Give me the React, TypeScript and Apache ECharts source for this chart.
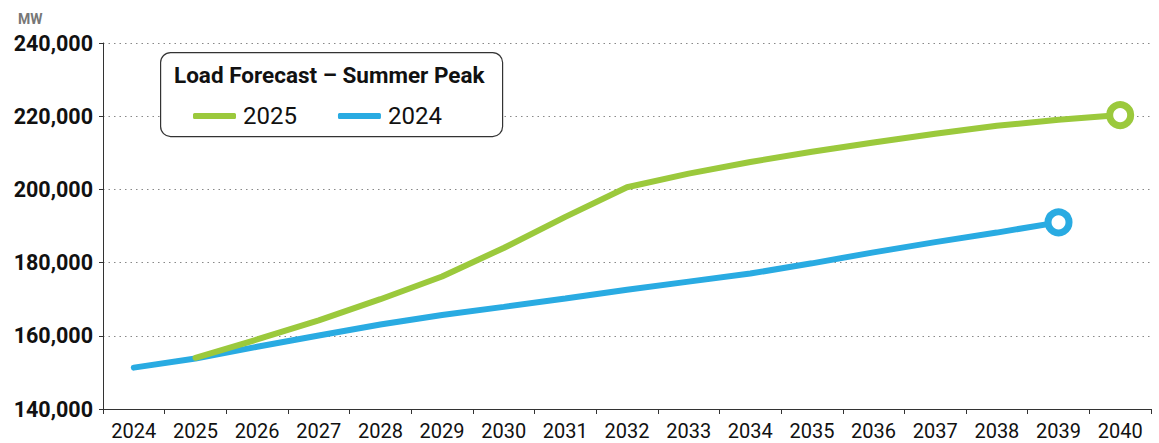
import React, { useEffect, useRef } from "react";
import * as echarts from "echarts";

const years = ["2024","2025","2026","2027","2028","2029","2030","2031","2032","2033","2034","2035","2036","2037","2038","2039","2040"];
const forecast2025: (number | null)[] = [null,154000,159000,164200,170000,176200,184000,192500,200600,204300,207500,210300,212800,215200,217400,219000,220300];
const forecast2024: (number | null)[] = [151300,153800,157000,160100,163100,165700,167900,170200,172600,174800,177000,179800,182800,185600,188200,191000,null];
const yTicks = { min: 140000, max: 240000, interval: 20000 };

const GREEN = "#9BC93C";
const BLUE = "#29ABE2";
const FONT = "Roboto, 'Noto Sans', sans-serif";

function withEndMarker(values: (number | null)[], color: string) {
  let last = -1;
  values.forEach((v, i) => { if (v != null) last = i; });
  return values.map((v, i) =>
    i === last
      ? { value: v, symbol: "circle", symbolSize: 21, itemStyle: { color: "#ffffff", borderColor: color, borderWidth: 7 } }
      : v
  );
}

export default function App() {
  const ref = useRef<HTMLDivElement>(null);
  useEffect(() => {
    if (!ref.current) return;
    const chart = echarts.init(ref.current, null, { renderer: "svg" });
    chart.setOption({
      animation: false,
      textStyle: { fontFamily: FONT },
      grid: { left: 103, right: 8, top: 43, bottom: 34, containLabel: false },
      graphic: [
        { type: "rect", left: 160, top: 52, shape: { width: 342, height: 84, r: 10 }, style: { fill: "#fff", stroke: "#333", lineWidth: 1.2 }, z: 1 },
        { type: "text", left: 174, top: 63, style: { text: "Load Forecast – Summer Peak", fontFamily: FONT, fontWeight: "bold", fontSize: 22.5, fill: "#111" }, z: 2 },
      ],
      legend: {
        left: 188, top: 99, itemWidth: 43, itemHeight: 6, itemGap: 41, icon: "roundRect",
        textStyle: { fontSize: 24, color: "#111", fontFamily: FONT, padding: [0, 0, 0, 2] },
        data: ["2025", "2024"], z: 3,
      },
      xAxis: {
        type: "category", data: years, boundaryGap: true,
        axisLine: { lineStyle: { color: "#333", width: 1 } },
        axisTick: { show: true, lineStyle: { color: "#333" }, length: 5 },
        axisLabel: { fontSize: 20, color: "#111", margin: 12, interval: 0 },
      },
      yAxis: {
        type: "value", min: yTicks.min, max: yTicks.max, interval: yTicks.interval,
        name: "MW", nameLocation: "end", nameGap: 17,
        nameTextStyle: { color: "#777", fontWeight: "bold", fontSize: 14, align: "left", padding: [0, 0, 0, -85] },
        axisLine: { show: true, lineStyle: { color: "#333" } },
        axisTick: { show: true, length: 4, lineStyle: { color: "#333" } },
        axisLabel: { fontSize: 21.5, fontWeight: "bold", color: "#111", margin: 10,
          formatter: (v: number) => v.toLocaleString("en-US") },
        splitLine: { show: true, lineStyle: { color: "#888", type: [1.5, 4], width: 1 } },
      },
      series: [
        { name: "2025", type: "line", data: withEndMarker(forecast2025, GREEN), symbol: "none", showSymbol: true,
          lineStyle: { color: GREEN, width: 6, cap: "round" }, itemStyle: { color: GREEN }, z: 3 },
        { name: "2024", type: "line", data: withEndMarker(forecast2024, BLUE), symbol: "none", showSymbol: true,
          lineStyle: { color: BLUE, width: 6, cap: "round" }, itemStyle: { color: BLUE }, z: 2 },
      ],
    });
    return () => chart.dispose();
  }, []);
  return <div ref={ref} style={{ position: "absolute", left: 0, top: 0, width: 1159, height: 443 }} />;
}
